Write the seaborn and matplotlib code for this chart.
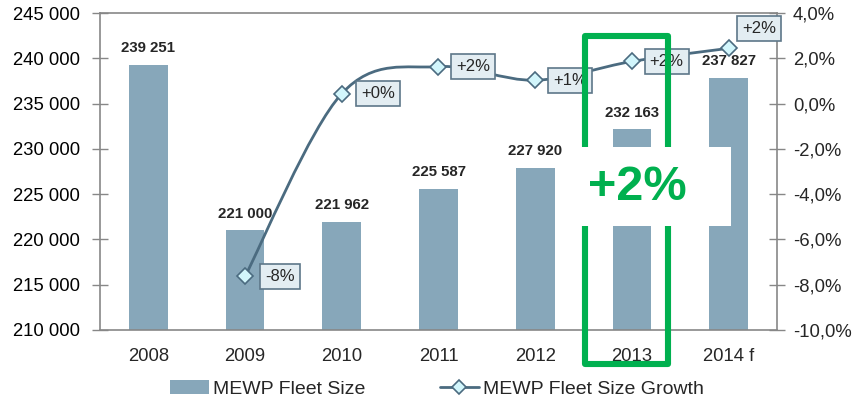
import numpy as np
import pandas as pd
import seaborn as sns
import matplotlib
matplotlib.use("Agg")
import matplotlib.pyplot as plt
from matplotlib.path import Path
from matplotlib.patches import PathPatch, Rectangle, Patch
from matplotlib.lines import Line2D

# ---------------- data ----------------
years = ["2008", "2009", "2010", "2011", "2012", "2013", "2014 f"]
fleet = [239251, 221000, 221962, 225587, 227920, 232163, 237827]
growth_years = ["2009", "2010", "2011", "2012", "2013", "2014 f"]
growth = [-7.63, 0.44, 1.63, 1.03, 1.86, 2.44]
growth_labels = ["-8%", "+0%", "+2%", "+1%", "+2%", "+2%"]
left_ticks = [210000, 215000, 220000, 225000, 230000, 235000, 240000, 245000]
right_ticks = [-10, -8, -6, -4, -2, 0, 2, 4]
series_names = ["MEWP Fleet Size", "MEWP Fleet Size Growth"]
highlight_text = "+2%"

# ---------------- style ----------------
BAR = "#87a7ba"
LINE = "#4b6b80"
MARK = "#d2f6fc"
BOXFC = "#e3edf2"
BOXEC = "#5d7789"
AXC = "#878787"
GREEN = "#00b04f"

sns.set_style("white")
plt.rcParams["font.family"] = ["Liberation Sans", "DejaVu Sans"]

fig = plt.figure(figsize=(8.56, 4.0), dpi=100)
ax = fig.add_axes([100 / 856, 70 / 400, 677 / 856, 317 / 400])

df = pd.DataFrame({"year": years, "fleet": fleet})
sns.barplot(data=df, x="year", y="fleet", color=BAR, saturation=1,
            width=0.4, linewidth=0, ax=ax, zorder=2)
ax.set_xlim(-0.5, len(years) - 0.5)
ax.set_ylim(left_ticks[0], left_ticks[-1])
ax.set_xlabel("")
ax.set_ylabel("")

ax.set_yticks(left_ticks)
ax.set_yticklabels([f"{v:,}".replace(",", " ") for v in left_ticks])
ax.tick_params(axis="y", direction="inout", length=11, width=1, color=AXC,
               labelsize=13.3, pad=9, labelcolor="black")

pos = np.arange(len(years))
ax.set_xticks(pos - 0.5, minor=False)
ax.set_xticklabels([""] * len(pos))
ax.set_xticks(pos, minor=True)
ax.set_xticklabels(years, minor=True)
ax.tick_params(axis="x", which="major", direction="out", length=4, width=1, color=AXC)
ax.tick_params(axis="x", which="minor", length=0, labelsize=13.3, pad=13)

for s in ["left", "bottom", "top"]:
    ax.spines[s].set_visible(True)
    ax.spines[s].set_color(AXC)
    ax.spines[s].set_linewidth(1.2)
ax.spines["right"].set_visible(False)

ax.bar_label(ax.containers[0],
             labels=[f"{v:,}".replace(",", " ") for v in fleet],
             padding=7, fontsize=10.8, fontweight="bold")

# ---------------- growth line ----------------
ax2 = ax.twinx()
ax2.set_ylim(right_ticks[0], right_ticks[-1])
ax2.set_yticks(right_ticks)
ax2.set_yticklabels([f"{v:.1f}%".replace(".", ",") for v in right_ticks])
ax2.tick_params(axis="y", direction="inout", length=11, width=1, color=AXC,
                labelsize=13.3, pad=6)
for s in ["left", "bottom", "top"]:
    ax2.spines[s].set_visible(False)
ax2.spines["right"].set_color(AXC)
ax2.spines["right"].set_linewidth(1.2)

gx = [years.index(y) for y in growth_years]
pts = np.column_stack([gx, growth]).astype(float)
n = len(pts)
verts = [pts[0]]
codes = [Path.MOVETO]
for i in range(n - 1):
    p_prev = pts[i - 1] if i > 0 else pts[i]
    p_next2 = pts[i + 2] if i + 2 < n else pts[i + 1]
    c1 = pts[i] + (pts[i + 1] - p_prev) / 6
    c2 = pts[i + 1] - (p_next2 - pts[i]) / 6
    verts += [c1, c2, pts[i + 1]]
    codes += [Path.CURVE4] * 3
ax2.add_patch(PathPatch(Path(verts, codes), fc="none", ec=LINE, lw=2.0,
                        zorder=3, capstyle="round"))
ax2.plot(gx, growth, ls="none", marker="D", ms=8, mfc=MARK, mec=LINE,
         mew=1.2, zorder=4)

offsets = [(25, 0), (26, 0), (25, 0), (25, 0), (25, 0), (22, 14)]
for x, y, lab, off in zip(gx, growth, growth_labels, offsets):
    ax2.annotate(lab, xy=(x, y), xytext=off, textcoords="offset points",
                 ha="center", va="center", fontsize=12, zorder=5,
                 bbox=dict(boxstyle="square,pad=0.3", fc=BOXFC, ec=BOXEC, lw=1.2))

# ---------------- highlight ----------------
fig.add_artist(Rectangle((585 / 856, 1 - 364 / 400), 83 / 856, 328 / 400,
                         fill=False, ec=GREEN, lw=4.4, joinstyle="round",
                         zorder=5))
fig.add_artist(Rectangle((578 / 856, 1 - 226 / 400), 153 / 856, 79 / 400,
                         fc="white", ec="none", zorder=6))
fig.text(637 / 856, 1 - 188 / 400, highlight_text, fontsize=35,
         fontweight="bold", color=GREEN, ha="center", va="center", zorder=7)

# ---------------- legend ----------------
handles = [Patch(fc=BAR, ec="none"),
           Line2D([], [], color=LINE, lw=2.0, marker="D", ms=7, mfc=MARK,
                  mec=LINE, mew=1.2)]
fig.legend(handles, series_names, loc="center", bbox_to_anchor=(0.5105, 0.028),
           ncol=2, frameon=False, fontsize=14, handlelength=2.0,
           handletextpad=0.25, columnspacing=3.8)

fig.savefig("out.png", dpi=100)
